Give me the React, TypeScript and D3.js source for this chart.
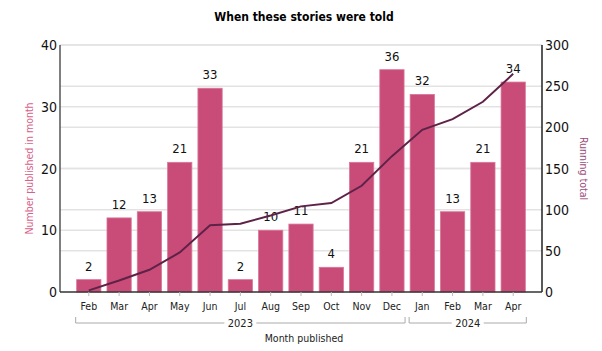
import * as d3 from "d3"
import { useEffect, useRef } from "react"

const months = ["Feb", "Mar", "Apr", "May", "Jun", "Jul", "Aug", "Sep", "Oct", "Nov", "Dec", "Jan", "Feb", "Mar", "Apr"]
const years = ["2023", "2023", "2023", "2023", "2023", "2023", "2023", "2023", "2023", "2023", "2023", "2024", "2024", "2024", "2024"]
const published = [2, 12, 13, 21, 33, 2, 10, 11, 4, 21, 36, 32, 13, 21, 34]
const runningTotal = [2, 14, 27, 48, 81, 83, 93, 104, 108, 129, 165, 197, 210, 231, 265]
const leftTicks = [0, 10, 20, 30, 40]
const rightTicks = [0, 50, 100, 150, 200, 250, 300]

const FONT = "'DejaVu Sans Condensed', 'DejaVu Sans', Verdana, sans-serif"

const App = () => {
  const svgRef = useRef<SVGSVGElement | null>(null)

  useEffect(() => {
    if (!svgRef.current) return
    const svg = d3.select(svgRef.current)
    svg.selectAll("*").remove()

    const left = 60
    const right = 542
    const top = 45
    const bottom = 292

    const keys = months.map((m, i) => `${years[i]}-${i}`)
    const x = d3.scaleBand().domain(keys).range([left, right]).paddingInner(0.2).paddingOuter(0.55)
    const y = d3.scaleLinear().domain([0, 40]).range([bottom, top])
    const y2 = d3.scaleLinear().domain([0, 300]).range([bottom, top])
    const cx = (i: number) => (x(keys[i]) || 0) + x.bandwidth() / 2

    // gridlines for both axes
    const grid = svg.append("g")
    leftTicks.slice(1).forEach(t => {
      grid.append("line").attr("x1", left).attr("x2", right).attr("y1", y(t)).attr("y2", y(t))
        .attr("stroke", "#e3e3e3").attr("stroke-width", 1.5)
    })
    rightTicks.slice(1).forEach(t => {
      grid.append("line").attr("x1", left).attr("x2", right).attr("y1", y2(t)).attr("y2", y2(t))
        .attr("stroke", "#e3e3e3").attr("stroke-width", 1.5)
    })

    // title
    svg.append("text")
      .attr("x", 304).attr("y", 21)
      .attr("text-anchor", "middle")
      .style("font-family", FONT).style("font-size", "12px").style("font-weight", "bold")
      .text("When these stories were told")

    // bars
    svg.selectAll(".bar")
      .data(published)
      .enter()
      .append("rect")
      .attr("x", (_, i) => x(keys[i]) || 0)
      .attr("width", x.bandwidth())
      .attr("y", d => y(d))
      .attr("height", d => bottom - y(d))
      .attr("fill", "#c94c78")
      .attr("stroke", "#d9759a")
      .attr("stroke-width", 0.8)

    // bar labels
    svg.selectAll(".label")
      .data(published)
      .enter()
      .append("text")
      .attr("x", (_, i) => cx(i))
      .attr("y", d => y(d) - 9)
      .attr("text-anchor", "middle")
      .style("font-family", FONT).style("font-size", "13px").attr("fill", "#111")
      .text(d => d)

    // running total line
    const line = d3.line<number>().x((_, i) => cx(i)).y(d => y2(d))
    svg.append("path")
      .attr("d", line(runningTotal))
      .attr("fill", "none")
      .attr("stroke", "#5e2248")
      .attr("stroke-width", 2)

    // axes lines
    svg.append("line").attr("x1", left).attr("x2", left).attr("y1", top).attr("y2", bottom)
      .attr("stroke", "#555").attr("stroke-width", 1.5)
    svg.append("line").attr("x1", right).attr("x2", right).attr("y1", top).attr("y2", bottom)
      .attr("stroke", "#222").attr("stroke-width", 1.5)
    svg.append("line").attr("x1", left).attr("x2", right).attr("y1", bottom).attr("y2", bottom)
      .attr("stroke", "#333").attr("stroke-width", 1.5)

    // left tick labels
    leftTicks.forEach(t => {
      svg.append("text").attr("x", left - 3).attr("y", y(t) + 5)
        .attr("text-anchor", "end")
        .style("font-family", FONT).style("font-size", "14px").attr("fill", "#111")
        .text(t)
    })
    // right tick labels
    rightTicks.forEach(t => {
      svg.append("text").attr("x", right + 3).attr("y", y2(t) + 5)
        .attr("text-anchor", "start")
        .style("font-family", FONT).style("font-size", "14px").attr("fill", "#111")
        .text(t)
    })

    // x ticks and month labels
    months.forEach((m, i) => {
      svg.append("line").attr("x1", cx(i)).attr("x2", cx(i)).attr("y1", bottom).attr("y2", bottom + 4)
        .attr("stroke", "#bbb")
      svg.append("text").attr("x", cx(i)).attr("y", bottom + 18)
        .attr("text-anchor", "middle")
        .style("font-family", FONT).style("font-size", "10.5px").attr("fill", "#222")
        .text(m)
    })

    // year brackets
    const yearGroups = d3.groups(keys.map((k, i) => ({ k, i, yr: years[i] })), d => d.yr)
    const by = 323
    yearGroups.forEach(([yr, items]) => {
      const first = items[0].i
      const last = items[items.length - 1].i
      const x0 = (x(keys[first]) || 0) - 1
      const x1 = (x(keys[last]) || 0) + x.bandwidth() + 1
      const mid = (x0 + x1) / 2
      const g = svg.append("g")
      const tw = 32
      g.append("path")
        .attr("d", `M${x0},${by - 6}V${by}H${mid - tw / 2}M${mid + tw / 2},${by}H${x1}V${by - 6}`)
        .attr("fill", "none").attr("stroke", "#aaa").attr("stroke-width", 1)
      g.append("text").attr("x", mid).attr("y", by + 4)
        .attr("text-anchor", "middle")
        .style("font-family", FONT).style("font-size", "11px").attr("fill", "#222")
        .text(yr)
    })

    // axis titles
    svg.append("text").attr("x", 304).attr("y", 342)
      .attr("text-anchor", "middle")
      .style("font-family", FONT).style("font-size", "10.5px").attr("fill", "#222")
      .text("Month published")

    svg.append("text")
      .attr("transform", `translate(33,${(top + bottom) / 2}) rotate(-90)`)
      .attr("text-anchor", "middle")
      .style("font-family", FONT).style("font-size", "10.5px").attr("fill", "#d65f8c")
      .text("Number published in month")

    svg.append("text")
      .attr("transform", `translate(580,${(top + bottom) / 2}) rotate(90)`)
      .attr("text-anchor", "middle")
      .style("font-family", FONT).style("font-size", "10.5px").attr("fill", "#9c4d7b")
      .text("Running total")
  }, [])

  return (
    <svg
      ref={svgRef}
      width={602}
      height={351}
      style={{ position: "absolute", left: 0, top: 0, background: "#fff" }}
    />
  )
}

export default App
